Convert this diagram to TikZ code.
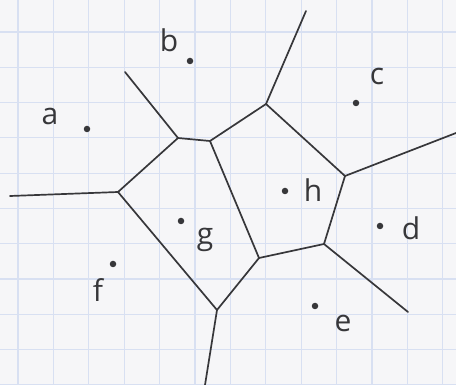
\documentclass[tikz,border=0pt]{standalone}
\usepackage{fontspec}
\setmainfont{Open Sans}
\definecolor{paper}{RGB}{246,246,248}
\definecolor{gridc}{RGB}{216,224,242}
\definecolor{ink}{RGB}{55,55,58}
\tikzset{
  site/.style={circle,fill=ink,inner sep=0pt,minimum size=6.5pt},
  lbl/.style={text=ink,font=\fontsize{30}{32}\selectfont,inner sep=0pt},
  edge/.style={draw=ink,line width=1.7pt,line cap=round,line join=round},
}
\begin{document}
\begin{tikzpicture}[x=1pt,y=-1pt]
\fill[paper] (0,0) rectangle (456,385);
\useasboundingbox (0,0) rectangle (456,385);
% grid
\foreach \i in {0,...,12} \draw[gridc,line width=1.2pt] ({18+35.4*\i},0) -- ({18+35.4*\i},385);
\foreach \j in {0,...,10} \draw[gridc,line width=1.2pt] (0,{32+35.3*\j}) -- (456,{32+35.3*\j});
% sites
\node[site] (a) at (87,129) {};
\node[site] (b) at (190,61) {};
\node[site] (c) at (356,103) {};
\node[site] (d) at (380,226) {};
\node[site] (e) at (315,306) {};
\node[site] (f) at (113,264) {};
\node[site] (g) at (181,221) {};
\node[site] (h) at (285,191) {};
% labels
\node[lbl] (la) at (50,116) {a};
\node[lbl] (lb) at (169,40) {b};
\node[lbl] (lc) at (377,76) {c};
\node[lbl] (ld) at (411,228) {d};
\node[lbl] (le) at (343,323) {e};
\node[lbl] (lf) at (98,290) {f};
\node[lbl] (lg) at (205,240) {g};
\node[lbl] (lh) at (313,190) {h};
% Voronoi vertices
\coordinate (v1) at (178,138);
\coordinate (v2) at (210,141);
\coordinate (v3) at (266,104);
\coordinate (v4) at (345,176);
\coordinate (v5) at (324,244);
\coordinate (v6) at (259,258);
\coordinate (v7) at (118,192);
\coordinate (v8) at (217,310);
% open ends
\coordinate (eL) at (10,196);
\coordinate (eUL) at (125,72);
\coordinate (eU) at (306,11);
\coordinate (eR) at (456,133);
\coordinate (eLR) at (408,312);
\coordinate (eB) at (205,385);
% edges
\draw[edge] (eL) -- (v7);
\draw[edge] (v7) -- (v1);
\draw[edge] (eUL) -- (v1);
\draw[edge] (v1) -- (v2);
\draw[edge] (v2) -- (v3);
\draw[edge] (v2) -- (v6);
\draw[edge] (v3) -- (eU);
\draw[edge] (v3) -- (v4);
\draw[edge] (v4) -- (eR);
\draw[edge] (v4) -- (v5);
\draw[edge] (v5) -- (v6);
\draw[edge] (v5) -- (eLR);
\draw[edge] (v6) -- (v8);
\draw[edge] (v7) -- (v8);
\draw[edge] (v8) -- (eB);
\end{tikzpicture}
\end{document}
